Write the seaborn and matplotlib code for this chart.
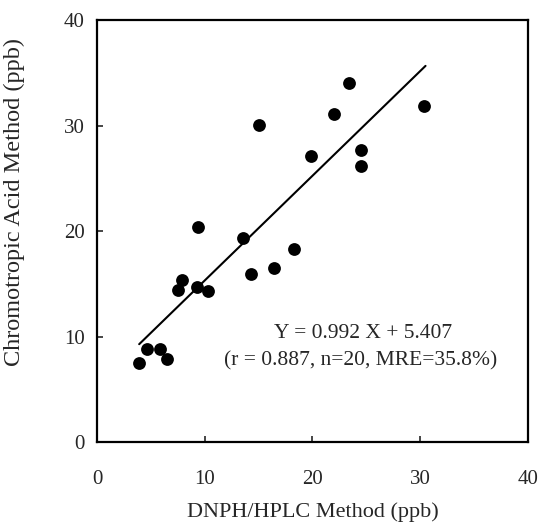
import numpy as np
import pandas as pd
import matplotlib
matplotlib.use("Agg")
import matplotlib.pyplot as plt
import seaborn as sns

# donnees
dnph_hplc = [3.9, 4.6, 5.8, 6.5, 7.5, 7.9, 9.4, 9.3, 10.3, 13.5,
             14.3, 15.0, 16.4, 18.3, 19.9, 22.0, 23.4, 24.5, 24.5, 30.4]
chromotropic = [7.5, 8.8, 8.8, 7.9, 14.4, 15.4, 20.4, 14.7, 14.3, 19.3,
                15.9, 30.1, 16.5, 18.3, 27.1, 31.1, 34.0, 27.7, 26.2, 31.9]
slope = 0.992
intercept = 5.407
fit_x = [3.9, 30.5]
ticks = [0, 10, 20, 30, 40]
eq_lines = ["Y = 0.992 X + 5.407", "(r = 0.887, n=20, MRE=35.8%)"]

df = pd.DataFrame({"x": dnph_hplc, "y": chromotropic})
fit = pd.DataFrame({"x": fit_x, "y": [slope * v + intercept for v in fit_x]})

sns.set_style("ticks")
plt.rcParams["font.family"] = ["Liberation Serif", "DejaVu Serif"]

fig = plt.figure(figsize=(5.43, 5.30), dpi=100)
ax = fig.add_axes([0.179, 0.166, 0.793, 0.796])

sns.scatterplot(data=df, x="x", y="y", color="black", s=85, edgecolor="black",
                linewidth=0, ax=ax, zorder=3)
sns.lineplot(data=fit, x="x", y="y", color="black", linewidth=1.5, ax=ax)

ax.set_xlim(0, 40)
ax.set_ylim(0, 40)
ax.set_xticks(ticks)
ax.set_yticks(ticks)
ax.tick_params(axis="x", direction="in", length=4, width=1.2, pad=20,
               labelsize=15, top=False)
ax.tick_params(axis="y", direction="in", length=4, width=1.2, pad=9,
               labelsize=15, right=False)
for sp in ax.spines.values():
    sp.set_visible(True)
    sp.set_linewidth(1.6)
    sp.set_color("black")

ax.set_xlabel("DNPH/HPLC Method (ppb)", fontsize=16, labelpad=10)
ax.set_ylabel("Chromotropic Acid Method (ppb)", fontsize=17.5)
ax.yaxis.set_label_coords(-0.167, 0.57)

ax.text(24.7, 10.3, eq_lines[0], fontsize=15.5, ha="center", va="center")
ax.text(24.5, 7.7, eq_lines[1], fontsize=15.5, ha="center", va="center")

fig.savefig("out.png", dpi=100)
plt.close(fig)
